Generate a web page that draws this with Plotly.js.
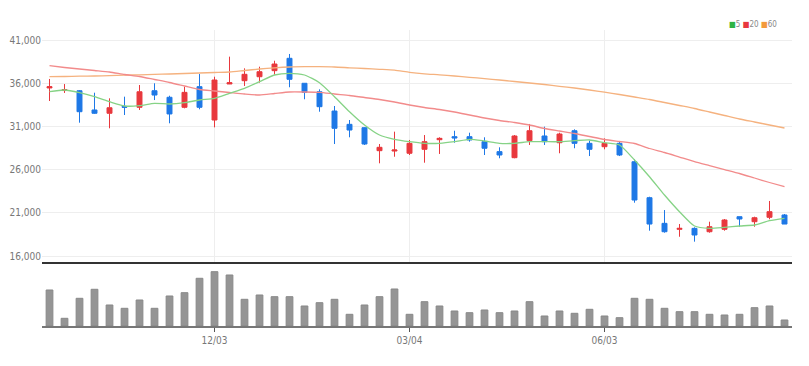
<!DOCTYPE html>
<html>
<head>
<meta charset="utf-8">
<script src="https://cdn.plot.ly/plotly-3.0.1.min.js"></script>
<style>html,body{margin:0;padding:0;background:#fff;}#chart{width:809px;height:366px;}</style>
</head>
<body>
<div id="chart"></div>
<script>
var dates = ["09/17","09/24","10/01","10/08","10/15","10/22","10/29","11/05","11/12","11/19","11/26","12/03","12/10","12/17","12/24","12/31","01/07","01/14","01/21","01/28","02/04","02/11","02/18","02/25","03/04","03/11","03/18","03/25","04/01","04/08","04/15","04/22","04/29","05/06","05/13","05/20","05/27","06/03","06/10","06/17","06/24","07/01","07/08","07/15","07/22","07/29","08/05","08/12","08/19","08/26"];
var openP = [35450,35150,35130,32900,32520,33320,33210,35130,34370,33210,35600,31740,35910,36290,36750,37450,38880,35990,35010,32780,31240,30850,28190,28150,27890,28350,29460,29810,29810,29230,28080,27380,29350,29890,29110,30500,29040,28650,29040,26910,22750,19780,19090,19200,18810,19090,20550,19970,20480,20750];
var highP = [36490,35900,35210,34900,34250,34440,35790,35990,34550,35600,37060,36750,39070,37720,37910,38600,39380,35990,35290,33360,31740,30890,28960,30390,29430,30000,29740,30500,30270,29740,28580,30000,31280,30970,30270,30660,29350,29620,29230,27190,22860,21320,19700,19320,19970,20280,20550,20550,22370,20860];
var lowP = [33940,34870,31430,32450,30780,32320,32900,34050,31360,33090,32980,30890,35900,35680,36060,36990,35530,34140,32700,28960,29740,28850,26730,27490,27690,26800,27810,29110,29230,27690,27310,27310,28850,28850,27890,28470,27570,28350,27570,22170,18930,18700,18230,17660,18700,18930,19390,19390,20250,19700];
var closeP = [35600,35250,32700,32520,33160,33220,35010,34630,32440,34940,33210,36370,36060,37030,37330,38220,36450,34940,33280,30780,30580,28960,28580,28270,29040,29230,29620,29660,29430,28470,27690,29890,30500,29230,30120,29040,28350,29040,27690,22480,19700,18810,19200,18430,19390,20170,20280,20430,21130,19700];
var volume = [360000,77000,277000,367000,210000,177000,260000,177000,300000,333000,477000,543000,510000,267000,310000,293000,293000,200000,233000,267000,117000,210000,293000,370000,117000,243000,200000,150000,133000,160000,133000,150000,243000,100000,150000,127000,167000,100000,83000,277000,267000,177000,143000,143000,117000,110000,117000,183000,200000,60000];
var ma5 = [35016,35213,34900,34437,33858,33361,33396,33673,33592,33743,34055,34252,34831,35410,36174,36949,37146,36949,36058,34437,32701,31162,30004,29507,29229,29044,29044,29229,29507,29310,29044,29044,29229,29229,29229,29345,29426,29113,28847,27111,25178,23060,21127,19472,19206,19322,19472,19588,20086,20363];
var ma20 = [38025,37817,37643,37470,37296,37007,36776,36428,36081,35676,35271,35097,34924,34750,34634,34808,34981,34981,34947,34750,34576,34345,34113,33824,33477,33187,32956,32667,32319,31972,31683,31451,31162,30757,30468,30178,29831,29484,29252,29021,28442,27979,27458,26937,26474,26011,25549,25028,24507,24021];
var ma60 = [36752,36775,36810,36833,36880,36926,36972,37018,37065,37123,37180,37238,37296,37470,37643,37782,37875,37910,37910,37875,37782,37701,37609,37504,37261,37088,36972,36833,36683,36532,36370,36197,36023,35849,35641,35444,35213,34958,34692,34403,34113,33766,33419,33072,32667,32262,31856,31509,31162,30815];
var priceTicks = [16000,21000,26000,31000,36000,41000];
var priceTickText = ["16,000","21,000","26,000","31,000","36,000","41,000"];
var dateTicks = ["12/03","03/04","06/03"];

var tickFont = {family: "Liberation Sans Narrow, DejaVu Sans Condensed, sans-serif", size: 10, color: "#777"};

var traces = [
  {type: "scatter", mode: "lines", x: dates, y: ma60, line: {color: "#f5b27f", width: 1.3, shape: "spline", smoothing: 0.6}, xaxis: "x", yaxis: "y", showlegend: false, hoverinfo: "skip"},
  {type: "scatter", mode: "lines", x: dates, y: ma20, line: {color: "#f28b8b", width: 1.3, shape: "spline", smoothing: 0.6}, xaxis: "x", yaxis: "y", showlegend: false, hoverinfo: "skip"},
  {type: "scatter", mode: "lines", x: dates, y: ma5, line: {color: "#86d386", width: 1.3, shape: "spline", smoothing: 0.6}, xaxis: "x", yaxis: "y", showlegend: false, hoverinfo: "skip"},
  {type: "candlestick", x: dates, open: openP, high: highP, low: lowP, close: closeP, xaxis: "x", yaxis: "y",
   increasing: {line: {color: "#e8383d", width: 1}, fillcolor: "#e8383d"},
   decreasing: {line: {color: "#1e78e6", width: 1}, fillcolor: "#1e78e6"},
   whiskerwidth: 0, showlegend: false, hoverinfo: "skip"},
  {type: "bar", x: dates, y: volume, xaxis: "x2", yaxis: "y2", width: 0.45,
   marker: {color: "#959595", line: {color: "#888888", width: 1}}, showlegend: false, hoverinfo: "skip"}
];

var layout = {
  width: 809, height: 366,
  margin: {l: 42, r: 17, t: 30, b: 40},
  paper_bgcolor: "#fff", plot_bgcolor: "#fff",
  showlegend: false, hovermode: false, boxgap: 0.53,
  xaxis: {type: "category", range: [-0.5, 49.5], anchor: "y", tickmode: "array", tickvals: dateTicks,
          showticklabels: false, showgrid: true, gridcolor: "#eeeeee", gridwidth: 1,
          showline: true, linecolor: "#333", linewidth: 2, zeroline: false, rangeslider: {visible: false}, fixedrange: true},
  yaxis: {domain: [0.2162, 1], range: [15306, 42157], tickmode: "array", tickvals: priceTicks, ticktext: priceTickText,
          showgrid: true, gridcolor: "#eeeeee", gridwidth: 1, zeroline: false, showline: false, ticks: "", tickfont: tickFont, fixedrange: true},
  xaxis2: {type: "category", range: [-0.5, 49.5], anchor: "y2", tickmode: "array", tickvals: dateTicks, ticktext: dateTicks,
           showgrid: false, showline: true, linecolor: "#777", linewidth: 2, ticks: "outside", ticklen: 4, tickcolor: "#555",
           tickfont: tickFont, zeroline: false, fixedrange: true},
  yaxis2: {domain: [0, 0.2095], range: [0, 620000], showgrid: false, showticklabels: false, zeroline: false, showline: false, ticks: "", fixedrange: true},
  annotations: [{
    xref: "paper", yref: "paper", x: 0.982, y: 1.02, xanchor: "right", yanchor: "middle", showarrow: false,
    text: '<span style="color:#2fb344">■</span>5 <span style="color:#e8383d">■</span>20 <span style="color:#f39a3c">■</span>60',
    font: {family: "Liberation Sans Narrow, DejaVu Sans Condensed, sans-serif", size: 8, color: "#888"}
  }]
};

Plotly.newPlot("chart", traces, layout, {displayModeBar: false, staticPlot: true});
</script>
</body>
</html>
